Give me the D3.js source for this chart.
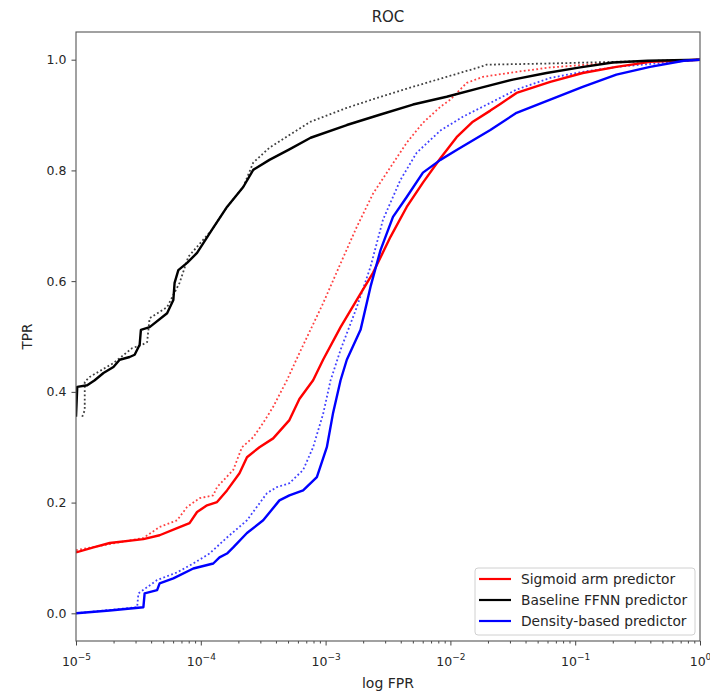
<!DOCTYPE html>
<html>
<head>
<meta charset="utf-8">
<script src="https://cdn.jsdelivr.net/npm/d3@7"></script>
<style>
  body { margin: 0; background: #fff; }
  text { font-family: "DejaVu Sans", sans-serif; fill: #262626; }
</style>
</head>
<body>
<svg id="chart"></svg>
<script>
// points are [log10 FPR, TPR]
const sigmoidSolid = [
  [-5, 0.11], [-4.86, 0.119], [-4.73, 0.127], [-4.46, 0.134], [-4.33, 0.141],
  [-4.19, 0.154], [-4.09, 0.163], [-4.03, 0.183], [-3.95, 0.195], [-3.87, 0.201],
  [-3.79, 0.222], [-3.69, 0.253], [-3.63, 0.282], [-3.53, 0.3], [-3.42, 0.316],
  [-3.29, 0.349], [-3.21, 0.387], [-3.1, 0.421], [-3.02, 0.458], [-2.88, 0.517],
  [-2.75, 0.566], [-2.62, 0.615], [-2.48, 0.68], [-2.35, 0.734], [-2.22, 0.778],
  [-2.08, 0.822], [-1.95, 0.86], [-1.82, 0.888], [-1.68, 0.908], [-1.6, 0.92],
  [-1.47, 0.94], [-1.2, 0.96], [-0.94, 0.976], [-0.67, 0.987], [-0.4, 0.996], [0, 1]
];
const sigmoidDotted = [
  [-5, 0.114], [-4.46, 0.136], [-4.33, 0.156], [-4.19, 0.168], [-4.11, 0.192],
  [-4.01, 0.208], [-3.9, 0.213], [-3.87, 0.228], [-3.74, 0.259], [-3.67, 0.3],
  [-3.58, 0.318], [-3.5, 0.344], [-3.42, 0.373], [-3.31, 0.421], [-3.21, 0.47],
  [-3.02, 0.56], [-2.88, 0.632], [-2.75, 0.698], [-2.62, 0.758], [-2.48, 0.806],
  [-2.35, 0.85], [-2.22, 0.886], [-2.08, 0.915], [-2, 0.928], [-1.87, 0.958],
  [-1.74, 0.969], [-1.47, 0.978], [-1.2, 0.986], [-0.67, 0.995], [0, 1]
];
const baselineSolid = [
  [-5, 0.355], [-4.99, 0.409], [-4.91, 0.412], [-4.85, 0.421], [-4.78, 0.434],
  [-4.7, 0.445], [-4.65, 0.458], [-4.57, 0.463], [-4.53, 0.467], [-4.49, 0.485],
  [-4.48, 0.512], [-4.41, 0.517], [-4.27, 0.542], [-4.22, 0.566], [-4.21, 0.597],
  [-4.18, 0.62], [-4.11, 0.633], [-4.03, 0.651], [-3.91, 0.693], [-3.79, 0.734],
  [-3.66, 0.77], [-3.58, 0.801], [-3.45, 0.819], [-3.29, 0.838], [-3.12, 0.859],
  [-2.83, 0.882], [-2.56, 0.901], [-2.3, 0.919], [-2.03, 0.933], [-1.76, 0.949],
  [-1.5, 0.964], [-1.23, 0.976], [-0.96, 0.986], [-0.7, 0.995], [-0.42, 0.998], [0, 1]
];
const baselineDotted = [
  [-4.95, 0.355], [-4.93, 0.367], [-4.93, 0.418], [-4.89, 0.427], [-4.7, 0.452],
  [-4.55, 0.479], [-4.47, 0.485], [-4.43, 0.49], [-4.41, 0.533], [-4.27, 0.553],
  [-4.17, 0.597], [-4.1, 0.644], [-3.91, 0.693], [-3.79, 0.734], [-3.66, 0.77],
  [-3.58, 0.814], [-3.45, 0.841], [-3.29, 0.864], [-3.12, 0.888], [-2.83, 0.913],
  [-2.56, 0.933], [-2.3, 0.951], [-2.03, 0.969], [-1.76, 0.987], [-1.71, 0.991],
  [-1.23, 0.993], [-0.7, 0.996], [0, 1]
];
const densitySolid = [
  [-5, 0], [-4.73, 0.005], [-4.46, 0.011], [-4.45, 0.036], [-4.35, 0.042],
  [-4.33, 0.054], [-4.22, 0.063], [-4.06, 0.081], [-3.9, 0.09], [-3.85, 0.101],
  [-3.79, 0.108], [-3.74, 0.119], [-3.63, 0.145], [-3.5, 0.168], [-3.37, 0.204],
  [-3.29, 0.213], [-3.18, 0.222], [-3.07, 0.246], [-2.99, 0.3], [-2.94, 0.362],
  [-2.88, 0.421], [-2.83, 0.458], [-2.72, 0.512], [-2.64, 0.59], [-2.56, 0.656],
  [-2.46, 0.716], [-2.35, 0.752], [-2.22, 0.796], [-2.08, 0.819], [-1.95, 0.837],
  [-1.68, 0.873], [-1.47, 0.904], [-1.2, 0.928], [-0.94, 0.951], [-0.67, 0.973],
  [-0.4, 0.987], [-0.13, 0.998], [0, 1]
];
const densityDotted = [
  [-5, 0], [-4.51, 0.011], [-4.5, 0.036], [-4.35, 0.06], [-4.19, 0.074],
  [-4.06, 0.09], [-3.93, 0.108], [-3.79, 0.137], [-3.63, 0.168], [-3.47, 0.217],
  [-3.39, 0.228], [-3.29, 0.235], [-3.18, 0.259], [-3.1, 0.3], [-3.02, 0.36],
  [-2.96, 0.421], [-2.88, 0.476], [-2.75, 0.553], [-2.64, 0.626], [-2.54, 0.711],
  [-2.4, 0.783], [-2.27, 0.832], [-2.08, 0.872], [-1.9, 0.897], [-1.68, 0.922],
  [-1.47, 0.946], [-1.2, 0.967], [-0.94, 0.978], [-0.67, 0.987], [0, 1]
];

const legendLabels = ["Sigmoid arm predictor", "Baseline FFNN predictor", "Density-based predictor"];
const seriesColors = ["#ff0000", "#000000", "#0000ff"];
const yTicks = [0, 0.2, 0.4, 0.6, 0.8, 1.0];
const xDecades = [-5, -4, -3, -2, -1, 0];

const width = 710;
const height = 693;
const plotLeft = 76, plotRight = 700, plotTop = 32, plotBottom = 641;

const svg = d3.select("#chart").attr("width", width).attr("height", height);

const xScale = d3.scaleLog().domain([1e-5, 1]).range([plotLeft, plotRight]);
const yScale = d3.scaleLinear().domain([-0.05, 1.05]).range([plotBottom, plotTop]);

svg.append("defs").append("clipPath").attr("id", "plot-clip")
  .append("rect")
  .attr("x", plotLeft).attr("y", plotTop)
  .attr("width", plotRight - plotLeft).attr("height", plotBottom - plotTop);

const line = d3.line()
  .x((d) => xScale(10 ** d[0]))
  .y((d) => yScale(d[1]));

const curves = [
  { data: sigmoidDotted, color: seriesColors[0], dotted: true },
  { data: baselineDotted, color: seriesColors[1], dotted: true },
  { data: densityDotted, color: seriesColors[2], dotted: true },
  { data: sigmoidSolid, color: seriesColors[0], dotted: false },
  { data: baselineSolid, color: seriesColors[1], dotted: false },
  { data: densitySolid, color: seriesColors[2], dotted: false },
];

const plot = svg.append("g").attr("clip-path", "url(#plot-clip)");
plot.selectAll("path")
  .data(curves)
  .enter()
  .append("path")
  .attr("d", (c) => line(c.data))
  .attr("fill", "none")
  .attr("stroke", (c) => c.color)
  .attr("stroke-width", (c) => (c.dotted ? 1.8 : 2.4))
  .attr("stroke-opacity", (c) => (c.dotted ? 0.75 : 1))
  .attr("stroke-dasharray", (c) => (c.dotted ? "1.8,2.4" : null))
  .attr("stroke-linejoin", "round");

// axes
const minorTicks = [];
xDecades.slice(0, -1).forEach((e) => {
  for (let m = 2; m < 10; m++) minorTicks.push(m * 10 ** e);
});

const xMinor = d3.axisBottom(xScale).tickValues(minorTicks).tickSize(2.5).tickFormat("");
const xMajor = d3.axisBottom(xScale)
  .tickValues(xDecades.map((e) => 10 ** e))
  .tickSize(4.5)
  .tickPadding(4)
  .tickFormat("");

svg.append("g").attr("transform", `translate(0, ${plotBottom})`).call(xMinor);
const gx = svg.append("g").attr("id", "x-axis").attr("transform", `translate(0, ${plotBottom})`).call(xMajor);

gx.selectAll(".tick text").each(function (d) {
  const t = d3.select(this);
  const e = Math.round(Math.log10(d));
  t.attr("y", 25).attr("dy", null).attr("font-size", 12.5);
  t.append("tspan").text("10");
  t.append("tspan").attr("dy", -6).attr("font-size", 9).text(e === 0 ? "0" : "\u2212" + Math.abs(e));
});

const yAxis = d3.axisLeft(yScale)
  .tickValues(yTicks)
  .tickSize(4.5)
  .tickPadding(5)
  .tickFormat(d3.format(".1f"));
svg.append("g").attr("id", "y-axis").attr("transform", `translate(${plotLeft}, 0)`).call(yAxis)
  .selectAll("text").attr("font-size", 12.5);

svg.selectAll(".domain").remove();
svg.selectAll(".tick line").attr("stroke", "#444");

svg.append("rect")
  .attr("x", plotLeft).attr("y", plotTop)
  .attr("width", plotRight - plotLeft).attr("height", plotBottom - plotTop)
  .attr("fill", "none").attr("stroke", "#555").attr("stroke-width", 1.1);

// labels
svg.append("text").attr("x", (plotLeft + plotRight) / 2).attr("y", 22)
  .attr("text-anchor", "middle").attr("font-size", 15).text("ROC");
svg.append("text").attr("x", (plotLeft + plotRight) / 2).attr("y", 688)
  .attr("text-anchor", "middle").attr("font-size", 14).text("log FPR");
svg.append("text").attr("transform", `translate(32, ${(plotTop + plotBottom) / 2}) rotate(-90)`)
  .attr("text-anchor", "middle").attr("font-size", 13.5).text("TPR");

// legend
const legend = svg.append("g").attr("transform", "translate(475, 568)");
legend.append("rect")
  .attr("width", 220).attr("height", 67).attr("rx", 3)
  .attr("fill", "#fff").attr("fill-opacity", 0.85)
  .attr("stroke", "#d0d0d0");
const rows = legend.selectAll(".row")
  .data(legendLabels)
  .enter()
  .append("g")
  .attr("class", "row")
  .attr("transform", (d, i) => `translate(0, ${11 + i * 21})`);
rows.append("line")
  .attr("x1", 4).attr("x2", 36)
  .attr("stroke", (d, i) => seriesColors[i])
  .attr("stroke-width", 2.2);
rows.append("text")
  .attr("x", 46).attr("y", 5)
  .attr("font-size", 13.8)
  .text((d) => d);
</script>
</body>
</html>
